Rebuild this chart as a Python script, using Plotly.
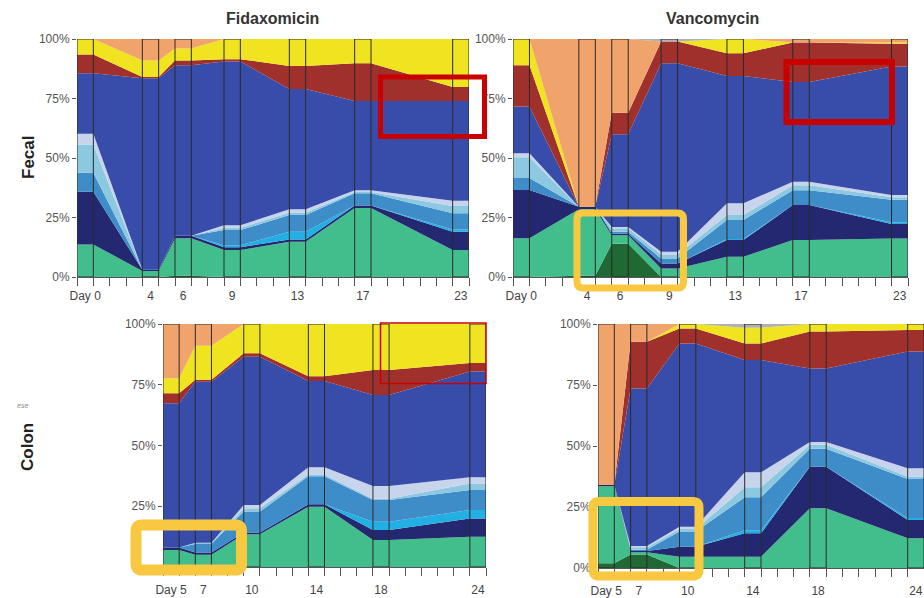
import plotly.graph_objects as go

# ---------------- data ----------------
TAXA = ["darkgreen", "green", "navy", "cyan", "medblue",
        "lightcyan", "lavender", "royal", "red", "yellow", "orange", "gray"]

FECAL_DAYS = [0, 4, 6, 9, 13, 17, 23]
COLON_DAYS = [5, 7, 10, 14, 18, 24]
FECAL_TICKS = ["Day 0", "4", "6", "9", "13", "17", "23"]
COLON_TICKS = ["Day 5", "7", "10", "14", "18", "24"]

fida_fecal_darkgreen = [0, 0, 0.5, 0, 0, 0, 0]
fida_fecal_green = [13.7, 2.5, 15.8, 11.3, 14.8, 29, 11.3]
fida_fecal_navy = [22.1, 0.5, 1, 1.2, 1, 1, 7.7]
fida_fecal_cyan = [0, 0, 0, 0.8, 3.2, 0, 1]
fida_fecal_medblue = [8, 0, 0, 6.4, 7, 5.2, 6.8]
fida_fecal_lightcyan = [11.9, 0, 0, 1, 1, 0.5, 3]
fida_fecal_lavender = [4.5, 0, 0, 1, 1.5, 0.8, 2.2]
fida_fecal_royal = [25.4, 80.5, 71.7, 68.8, 50.5, 37.5, 42]
fida_fecal_red = [7.9, 0.5, 2, 1, 9.7, 15.8, 5.8]
fida_fecal_yellow = [6.5, 7, 5, 8.5, 11.3, 10.2, 20.2]
fida_fecal_orange = [0, 9, 4, 0, 0, 0, 0]
fida_fecal_gray = [0, 0, 0, 0, 0, 0, 0]

vanco_fecal_darkgreen = [0, 0.5, 14, 0, 0, 0, 0]
vanco_fecal_green = [16.3, 28, 3.5, 3.6, 8.5, 15.5, 16.2]
vanco_fecal_navy = [20.3, 1, 0.7, 2.1, 7, 14.7, 6.1]
vanco_fecal_cyan = [0, 0, 0, 0, 0.5, 0, 0.7]
vanco_fecal_medblue = [5, 0, 0.8, 2.1, 8, 6.3, 9.5]
vanco_fecal_lightcyan = [8.8, 0, 1.5, 1.7, 2, 2, 1]
vanco_fecal_lavender = [1.7, 0, 0.5, 1.1, 5, 1.5, 1]
vanco_fecal_royal = [19.6, 0, 39, 79.2, 53.5, 41.9, 53.9]
vanco_fecal_red = [17.4, 0, 9, 9.2, 9.5, 16.6, 9.6]
vanco_fecal_yellow = [11, 0, 0, 0, 6, 0, 0.5]
vanco_fecal_orange = [0, 70.5, 31, 0, 0, 1.5, 1.5]
vanco_fecal_gray = [0, 0, 0, 1, 0, 0, 0]

fida_colon_darkgreen = [0, 0, 0, 0, 0, 0]
fida_colon_green = [7, 5, 13.5, 24.8, 11.1, 12.5]
fida_colon_navy = [1, 1, 0.7, 1, 4.1, 7.5]
fida_colon_cyan = [0, 0, 0, 0, 3.4, 3.5]
fida_colon_medblue = [0, 3.5, 8.6, 11.5, 9, 8.2]
fida_colon_lightcyan = [0, 0.5, 1.4, 0.8, 0.5, 2.7]
fida_colon_lavender = [0, 0, 1.3, 2.9, 5.3, 2.5]
fida_colon_royal = [59.4, 66.3, 61, 35.5, 37.5, 43.6]
fida_colon_red = [4.1, 0.8, 1.5, 2, 10.2, 3.5]
fida_colon_yellow = [6.2, 14, 12, 21.5, 19, 16]
fida_colon_orange = [22.3, 9, 0, 0, 0, 0]
fida_colon_gray = [0, 0, 0, 0, 0, 0]

vanco_colon_darkgreen = [1.9, 5.5, 0, 0, 0, 0]
vanco_colon_green = [31.6, 1, 4.6, 4.6, 24.5, 12.2]
vanco_colon_navy = [0.5, 0.5, 4.1, 9.6, 17, 7.5]
vanco_colon_cyan = [0, 0, 0, 1.3, 0, 0.8]
vanco_colon_medblue = [0, 0.5, 6.2, 13.5, 7.4, 16]
vanco_colon_lightcyan = [0, 1, 1.1, 4.1, 1.6, 1]
vanco_colon_lavender = [0, 0.5, 0.9, 6.1, 1.1, 3.4]
vanco_colon_royal = [0, 64.6, 75, 46, 30.2, 47.8]
vanco_colon_red = [0, 19.1, 6.2, 6.8, 15.1, 8.8]
vanco_colon_yellow = [0, 0, 1.8, 6.5, 3.1, 2.5]
vanco_colon_orange = [66, 7.3, 0, 0, 0, 0]
vanco_colon_gray = [0, 0, 0, 1.5, 0, 0]

# ---------------- styles ----------------
COLORS = {
    "darkgreen": "rgb(32,104,52)",
    "green": "rgb(66,190,140)",
    "navy": "rgb(36,40,112)",
    "cyan": "rgb(34,176,228)",
    "medblue": "rgb(62,140,200)",
    "lightcyan": "rgb(140,200,224)",
    "lavender": "rgb(200,212,236)",
    "royal": "rgb(56,76,170)",
    "red": "rgb(160,48,44)",
    "yellow": "rgb(240,228,32)",
    "orange": "rgb(240,164,108)",
    "gray": "rgb(176,176,176)",
}

W, H = 924, 598


def px(x):
    return x / W


def py(y):
    return 1 - y / H


g = globals()
PANELS = [
    # key, days, ticks, axis suffix, x-domain px, y-domain px, label gap
    ("fida_fecal", FECAL_DAYS, FECAL_TICKS, "", (77, 469), (39, 277), 8),
    ("vanco_fecal", FECAL_DAYS, FECAL_TICKS, "2", (513, 908), (39, 277), 8),
    ("fida_colon", COLON_DAYS, COLON_TICKS, "3", (163, 486), (324, 567), 12),
    ("vanco_colon", COLON_DAYS, COLON_TICKS, "4", (598, 924), (324, 568), 12),
]

fig = go.Figure()
layout_axes = {}
for key, days, ticks, sfx, (x0, x1), (y0, y1), gap in PANELS:
    xs = []
    for d in days:
        xs += [d, d + 1]
    for t in TAXA:
        vals = g[f"{key}_{t}"]
        ys = []
        for v in vals:
            ys += [v, v]
        fig.add_trace(go.Scatter(
            x=xs, y=ys, stackgroup=key, groupnorm="percent", mode="none",
            fillcolor=COLORS[t], name=t, showlegend=False,
            xaxis="x" + sfx, yaxis="y" + sfx, hoverinfo="skip"))
    # outline of each sampled day (rectangle spanning the full 0-100% column)
    bx, by = [], []
    for d in days:
        bx += [d, d, d + 1, d + 1, d, None]
        by += [0, 100, 100, 0, 0, None]
    fig.add_trace(go.Scatter(
        x=bx, y=by, mode="lines", line=dict(color="#2a2a2a", width=1),
        showlegend=False, xaxis="x" + sfx, yaxis="y" + sfx, hoverinfo="skip",
        cliponaxis=False))

    layout_axes["xaxis" + sfx] = dict(
        domain=[px(x0), px(x1)], range=[days[0], days[-1] + 1],
        anchor="y" + sfx, showgrid=False, zeroline=False, automargin=False,
        showline=True, linecolor="#555", linewidth=1,
        tickmode="array", tickvals=[d + 0.5 for d in days], ticktext=ticks,
        ticks="outside", ticklen=gap, tickcolor="rgba(0,0,0,0)",
        minor=dict(tick0=0, dtick=1, ticks="outside", ticklen=8,
                   tickcolor="#555", tickwidth=1, showgrid=False),
        tickfont=dict(family="Liberation Sans, Arial", size=12, color="#444"),
        fixedrange=True)
    layout_axes["yaxis" + sfx] = dict(
        domain=[py(y1), py(y0)], range=[0, 100], anchor="x" + sfx,
        showgrid=False, zeroline=False, showline=False, automargin=False,
        tickmode="array", tickvals=[0, 25, 50, 75, 100],
        ticktext=["0%", "25%", "50%", "75%", "100%"],
        ticks="outside", ticklen=4, tickcolor="#555",
        tickfont=dict(family="Liberation Sans, Arial", size=12, color="#555"),
        fixedrange=True)

fig.update_layout(**layout_axes)


def rounded_rect(xa, ya, xb, yb, r):
    return (f"M {px(xa + r)},{py(ya)} L {px(xb - r)},{py(ya)} "
            f"Q {px(xb)},{py(ya)} {px(xb)},{py(ya + r)} "
            f"L {px(xb)},{py(yb - r)} Q {px(xb)},{py(yb)} {px(xb - r)},{py(yb)} "
            f"L {px(xa + r)},{py(yb)} Q {px(xa)},{py(yb)} {px(xa)},{py(yb - r)} "
            f"L {px(xa)},{py(ya + r)} Q {px(xa)},{py(ya)} {px(xa + r)},{py(ya)} Z")


RED = "rgb(200,0,0)"
GOLD = "rgb(248,200,64)"
shapes = [
    dict(type="rect", xref="paper", yref="paper", x0=px(380.5), x1=px(484.5),
         y0=py(136.5), y1=py(77), line=dict(color=RED, width=5)),
    dict(type="rect", xref="paper", yref="paper", x0=px(786.5), x1=px(892),
         y0=py(122), y1=py(62), line=dict(color=RED, width=6)),
    dict(type="rect", xref="paper", yref="paper", x0=px(380.5), x1=px(486),
         y0=py(383.5), y1=py(323), line=dict(color=RED, width=1.5)),
    dict(type="path", xref="paper", yref="paper",
         path=rounded_rect(577, 213, 683.5, 288, 6), line=dict(color=GOLD, width=7)),
    # white patch left of the plot inside the lower-left highlight box
    dict(type="rect", xref="paper", yref="paper", x0=px(140), x1=px(162.5),
         y0=py(566), y1=py(530), line=dict(width=0), fillcolor="white"),
    dict(type="path", xref="paper", yref="paper",
         path=rounded_rect(136, 525, 241.5, 570, 6), line=dict(color=GOLD, width=11)),
    dict(type="path", xref="paper", yref="paper",
         path=rounded_rect(593, 501.5, 699, 576, 6), line=dict(color=GOLD, width=9)),
]

TITLE_FONT = dict(family="Liberation Sans, Arial", size=16, color="#333")
LABEL_FONT = dict(family="Liberation Sans, Arial", size=17, color="#222")
annotations = [
    dict(text="<b>Fidaxomicin</b>", x=px(272), y=py(19), xref="paper", yref="paper",
         showarrow=False, font=TITLE_FONT, xanchor="center", yanchor="middle"),
    dict(text="<b>Vancomycin</b>", x=px(712), y=py(19), xref="paper", yref="paper",
         showarrow=False, font=TITLE_FONT, xanchor="center", yanchor="middle"),
    dict(text="<b>Fecal</b>", x=px(28), y=py(158), xref="paper", yref="paper",
         showarrow=False, font=LABEL_FONT, textangle=-90,
         xanchor="center", yanchor="middle"),
    dict(text="<b>Colon</b>", x=px(28), y=py(447), xref="paper", yref="paper",
         showarrow=False, font=LABEL_FONT, textangle=-90,
         xanchor="center", yanchor="middle"),
    dict(text="<i>ese</i>", x=px(22), y=py(405), xref="paper", yref="paper",
         showarrow=False, font=dict(family="Liberation Sans, Arial", size=7, color="#888"),
         xanchor="center", yanchor="middle"),
]

fig.update_layout(
    width=W, height=H, autosize=False,
    margin=dict(l=0, r=0, t=0, b=0),
    paper_bgcolor="white", plot_bgcolor="white",
    showlegend=False,
    shapes=shapes, annotations=annotations,
)

fig.write_html("out.html")
